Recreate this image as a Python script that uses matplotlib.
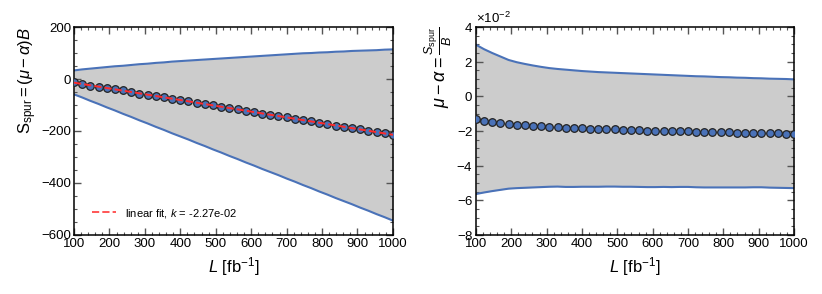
import numpy as np
import matplotlib
matplotlib.use("Agg")
import matplotlib.pyplot as plt
from matplotlib.ticker import MultipleLocator, ScalarFormatter

plt.rcParams["font.family"] = ["Liberation Sans", "DejaVu Sans"]
plt.rcParams["mathtext.fontset"] = "custom"
plt.rcParams["mathtext.rm"] = "Liberation Sans"
plt.rcParams["mathtext.it"] = "Liberation Sans:italic"
plt.rcParams["mathtext.bf"] = "Liberation Sans:bold"

# === dati ===
lumi = np.linspace(100, 1000, 40)

s_spur = [-13, -19, -25, -29, -35, -40, -44, -50, -56, -60,
          -66, -70, -76, -81, -86, -91, -97, -101, -107, -112,
          -116, -122, -127, -133, -137, -143, -148, -152, -158, -163,
          -169, -173, -179, -184, -189, -194, -200, -204, -209, -215]
s_up = [33, 37, 40, 43, 46, 49, 51, 54, 57, 59,
        62, 64, 67, 69, 71, 73, 75, 77, 79, 81,
        83, 85, 87, 89, 91, 93, 95, 97, 99, 100,
        102, 103, 105, 106, 108, 109, 110, 111, 113, 114]
s_dn = [-59, -71, -84, -96, -109, -121, -134, -146, -159, -171,
        -184, -196, -209, -221, -233, -246, -258, -271, -283, -296,
        -308, -321, -333, -346, -358, -370, -383, -395, -408, -420,
        -433, -445, -458, -470, -482, -495, -507, -520, -532, -545]

# mu - alpha (x 1e-2)
mu_a = [-1.33, -1.44, -1.50, -1.56, -1.60, -1.64, -1.67, -1.69, -1.73, -1.75,
        -1.77, -1.81, -1.83, -1.85, -1.87, -1.89, -1.89, -1.91, -1.93, -1.95,
        -1.96, -1.98, -1.98, -2.00, -2.00, -2.02, -2.02, -2.04, -2.06, -2.06,
        -2.08, -2.08, -2.10, -2.10, -2.12, -2.12, -2.14, -2.14, -2.15, -2.17]
mu_up = [2.98, 2.72, 2.50, 2.30, 2.10, 1.97, 1.87, 1.78, 1.70, 1.63,
         1.58, 1.54, 1.50, 1.46, 1.43, 1.40, 1.38, 1.36, 1.34, 1.32,
         1.30, 1.28, 1.26, 1.24, 1.22, 1.20, 1.18, 1.16, 1.15, 1.13,
         1.11, 1.10, 1.08, 1.07, 1.05, 1.04, 1.02, 1.01, 1.00, 0.98]
mu_dn = [-5.64, -5.55, -5.47, -5.40, -5.33, -5.30, -5.28, -5.26, -5.24, -5.22,
         -5.21, -5.23, -5.23, -5.22, -5.22, -5.22, -5.21, -5.21, -5.22, -5.22,
         -5.23, -5.24, -5.24, -5.23, -5.24, -5.23, -5.23, -5.25, -5.26, -5.26,
         -5.26, -5.26, -5.26, -5.26, -5.25, -5.25, -5.27, -5.28, -5.29, -5.30]

mu_a = np.array(mu_a) * 1e-2
mu_up = np.array(mu_up) * 1e-2
mu_dn = np.array(mu_dn) * 1e-2

blue = "#4a72b8"
grey = "#cccccc"

fig = plt.figure(figsize=(8.22, 2.94), dpi=100)
ax1 = fig.add_axes([0.090, 0.201, 0.388, 0.707])
ax2 = fig.add_axes([0.579, 0.201, 0.387, 0.707])


def style(ax):
    ax.tick_params(which="both", direction="in", top=True, right=True,
                   labelsize=9.5, color="#555555", pad=2)
    ax.tick_params(which="major", length=5, width=1)
    ax.tick_params(which="minor", length=2.5, width=0.8)
    for sp in ax.spines.values():
        sp.set_linewidth(1.1)
    ax.set_xlim(100, 1000)
    ax.xaxis.set_major_locator(MultipleLocator(100))
    ax.xaxis.set_minor_locator(MultipleLocator(20))
    ax.set_xlabel(r"$L$ [fb$^{-1}$]", fontsize=12, labelpad=4)


# --- pannello sinistro ---
ax1.fill_between(lumi, s_dn, s_up, color=grey, lw=0)
ax1.plot(lumi, s_up, color=blue, lw=1.5)
ax1.plot(lumi, s_dn, color=blue, lw=1.5)
ax1.scatter(lumi, s_spur, s=30, color=blue, edgecolor="#222222", lw=0.9, zorder=3)
coef = np.polyfit(lumi, s_spur, 1)
ax1.plot(lumi, np.polyval(coef, lumi), color="#ff2a2a", ls="--", lw=1.4, zorder=4,
         label=r"linear fit, $k$ = -2.27e-02")
ax1.set_ylim(-600, 200)
ax1.yaxis.set_major_locator(MultipleLocator(200))
ax1.yaxis.set_minor_locator(MultipleLocator(50))
ax1.set_ylabel(r"$\mathrm{S}_{\mathrm{spur}} = (\mu - \alpha)B$", fontsize=12,
               labelpad=2, loc="top")
leg = ax1.legend(loc="lower left", frameon=False, fontsize=8,
                 bbox_to_anchor=(0.025, 0.025), handlelength=2.2)
for h in leg.get_lines():
    h.set_alpha(0.8)
style(ax1)

# --- pannello destro ---
ax2.fill_between(lumi, mu_dn, mu_up, color=grey, lw=0)
ax2.plot(lumi, mu_up, color=blue, lw=1.5)
ax2.plot(lumi, mu_dn, color=blue, lw=1.5)
ax2.scatter(lumi, mu_a, s=30, color=blue, edgecolor="#222222", lw=0.9, zorder=3)
ax2.set_ylim(-0.08, 0.04)
ax2.yaxis.set_major_locator(MultipleLocator(0.02))
ax2.yaxis.set_minor_locator(MultipleLocator(0.005))
fmt = ScalarFormatter(useMathText=True)
fmt.set_powerlimits((-1, 1))
ax2.yaxis.set_major_formatter(fmt)
ax2.yaxis.get_offset_text().set_fontsize(9.5)
ax2.set_ylabel(r"$\mu - \alpha = \frac{S_{\mathrm{spur}}}{B}$", fontsize=13,
               labelpad=2, loc="top")
style(ax2)

fig.savefig("out.png", dpi=100)
